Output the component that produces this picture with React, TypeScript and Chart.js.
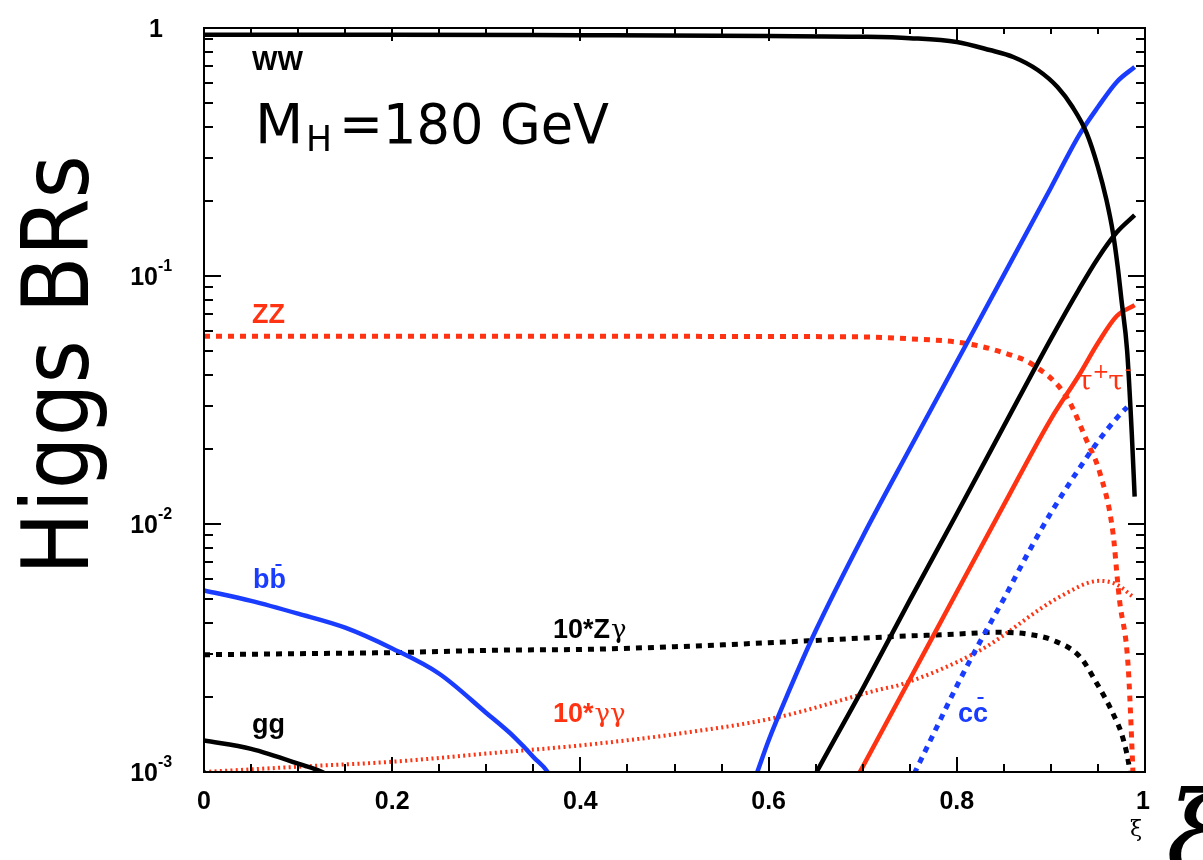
import React, { useEffect, useRef } from "react";
import { Chart, registerables } from "chart.js";

Chart.register(...registerables);

const BLACK = "#000000";
const BLUE = "#1a3cff";
const RED = "#ff3312";

// ---- data ----
const wwX = [0, 0.2, 0.4, 0.6, 0.7, 0.75, 0.8, 0.835, 0.86, 0.886, 0.907, 0.923, 0.938, 0.95, 0.959, 0.966, 0.971, 0.975, 0.981, 0.986, 0.989];
const wwY = [0.94, 0.94, 0.935, 0.928, 0.922, 0.91, 0.878, 0.815, 0.764, 0.677, 0.578, 0.48, 0.377, 0.275, 0.203, 0.149, 0.109, 0.08, 0.05, 0.023, 0.0129];

const bbX = [0, 0.05, 0.1, 0.15, 0.2, 0.25, 0.3, 0.33, 0.35, 0.37, 0.4, 0.44, 0.48, 0.52, 0.55, 0.57, 0.588, 0.6, 0.62, 0.65, 0.7, 0.75, 0.8, 0.85, 0.9, 0.93, 0.95, 0.97, 0.989];
const bbY = [0.0054, 0.0049, 0.00435, 0.00382, 0.00315, 0.00249, 0.00173, 0.00138, 0.00115, 0.00093, 0.0004, 0.0001, 0.000005, 0.00005, 0.0003, 0.00065, 0.001, 0.00134, 0.00205, 0.00371, 0.00889, 0.0201, 0.0451, 0.101, 0.227, 0.37, 0.48, 0.606, 0.696];

const ggX = [0, 0.05, 0.1, 0.13, 0.16, 0.2, 0.3, 0.4, 0.5, 0.55, 0.6, 0.62, 0.651, 0.7, 0.75, 0.8, 0.85, 0.9, 0.93, 0.95, 0.97, 0.989];
const ggY = [0.00134, 0.00124, 0.00108, 0.00098, 0.0008, 0.0006, 0.0002, 0.00001, 0.00001, 0.0001, 0.00044, 0.0006, 0.001, 0.00217, 0.00492, 0.011, 0.0248, 0.0558, 0.0886, 0.118, 0.15, 0.176];

const tautauX = [0.6, 0.65, 0.697, 0.75, 0.8, 0.85, 0.9, 0.93, 0.95, 0.97, 0.989];
const tautauY = [0.000206, 0.000468, 0.001, 0.00236, 0.00532, 0.01194, 0.0265, 0.0399, 0.0537, 0.069, 0.0763];

const ccX = [0.7, 0.73, 0.7556, 0.7747, 0.8002, 0.8247, 0.8502, 0.8757, 0.9001, 0.9299, 0.95, 0.9702, 0.981];
const ccY = [0.00036, 0.00063, 0.001, 0.00141, 0.00223, 0.00335, 0.00501, 0.00763, 0.0111, 0.0167, 0.0215, 0.0268, 0.0296];

const zzX = [0, 0.2, 0.4, 0.6, 0.7, 0.75, 0.807, 0.85, 0.881, 0.917, 0.938, 0.952, 0.966, 0.971, 0.973, 0.982, 0.987, 0.99];
const zzY = [0.0572, 0.0572, 0.0572, 0.057, 0.0568, 0.0558, 0.0537, 0.049, 0.0438, 0.0324, 0.0217, 0.0161, 0.0092, 0.0058, 0.0049, 0.0027, 0.00104, 0.0005];

const zgX = [0, 0.1, 0.2, 0.315, 0.4, 0.5, 0.6, 0.722, 0.8, 0.843, 0.875, 0.902, 0.931, 0.949, 0.966, 0.977, 0.984, 0.99];
const zgY = [0.00297, 0.003, 0.00303, 0.0031, 0.00312, 0.0032, 0.00332, 0.0035, 0.0036, 0.00366, 0.0036, 0.0034, 0.00291, 0.00227, 0.00172, 0.00135, 0.001, 0.0006];

const ggamX = [0, 0.1, 0.2, 0.315, 0.4, 0.5, 0.609, 0.718, 0.74, 0.825, 0.91, 0.952, 0.97, 0.987];
const ggamY = [0.001, 0.00105, 0.0011, 0.0012, 0.00128, 0.00142, 0.00166, 0.00215, 0.00225, 0.0031, 0.0051, 0.0059, 0.0057, 0.0051];

// ---- axis ticks ----
const xMajorTicks = [0, 0.2, 0.4, 0.6, 0.8, 1];
const xTickLabels = ["0", "0.2", "0.4", "0.6", "0.8", "1"];
const yMajorTicks = [1, 0.1, 0.01, 0.001];
const yTickBase = ["1", "10", "10", "10"];
const yTickExp = ["", "-1", "-2", "-3"];

function pts(xs: number[], ys: number[]) {
  return xs.map((x, i) => ({ x, y: ys[i] }));
}

const SANS = '"Liberation Sans", Arial, Helvetica, sans-serif';
const SERIF = '"DejaVu Serif", "Liberation Serif", serif';
const TITLE = '"DejaVu Sans", sans-serif';

function fitText(ctx: CanvasRenderingContext2D, text: string, x: number, y: number, maxW: number) {
  const w = ctx.measureText(text).width;
  const s = w > maxW ? maxW / w : 1;
  ctx.save();
  ctx.translate(x, y);
  ctx.scale(s, 1);
  ctx.fillText(text, 0, 0);
  ctx.restore();
  return w * s;
}

const overlay = {
  id: "overlay",
  afterDatasetsDraw(chart: any) {
    const { ctx, chartArea: a, scales } = chart;
    const xs = scales.x;
    const ys = scales.y;
    ctx.save();
    ctx.strokeStyle = BLACK;
    ctx.fillStyle = BLACK;
    ctx.lineWidth = 2;
    ctx.lineCap = "butt";
    ctx.strokeRect(a.left, a.top, a.right - a.left, a.bottom - a.top);

    // x ticks (inward, bottom and top)
    ctx.beginPath();
    for (let i = 0; i <= 20; i++) {
      const v = i * 0.05;
      const px = Math.round(xs.getPixelForValue(v));
      const major = i % 4 === 0;
      const lb = major ? 15 : 8;
      const lt = major ? 13 : 6;
      ctx.moveTo(px, a.bottom);
      ctx.lineTo(px, a.bottom - lb);
      ctx.moveTo(px, a.top);
      ctx.lineTo(px, a.top + lt);
    }
    // y ticks (inward, left and right)
    for (let e = -3; e <= 0; e++) {
      for (let m = 1; m <= 9; m++) {
        const v = m * Math.pow(10, e);
        if (v > 1.0001) continue;
        const py = Math.round(ys.getPixelForValue(v));
        const major = m === 1;
        const l = major ? 17 : 9;
        ctx.moveTo(a.left, py);
        ctx.lineTo(a.left + l, py);
        ctx.moveTo(a.right, py);
        ctx.lineTo(a.right - l, py);
      }
    }
    ctx.stroke();

    // x tick labels
    ctx.font = `bold 25px ${SANS}`;
    ctx.textAlign = "center";
    ctx.textBaseline = "middle";
    xMajorTicks.forEach((v, i) => {
      let px = xs.getPixelForValue(v);
      if (i === xMajorTicks.length - 1) px -= 2;
      ctx.fillText(xTickLabels[i], px, 802);
    });

    // y tick labels
    yMajorTicks.forEach((v, i) => {
      const py = ys.getPixelForValue(v);
      ctx.textBaseline = "middle";
      if (!yTickExp[i]) {
        ctx.font = `bold 25px ${SANS}`;
        ctx.textAlign = "right";
        ctx.fillText(yTickBase[i], 163, py + 2);
      } else {
        ctx.font = `bold 25px ${SANS}`;
        ctx.textAlign = "right";
        ctx.fillText(yTickBase[i], 158, py + 2);
        ctx.font = `bold 16px ${SANS}`;
        ctx.textAlign = "left";
        ctx.fillText(yTickExp[i], 158, py - 9);
      }
    });

    // Axis title (rotated)
    ctx.save();
    ctx.translate(88, 365);
    ctx.rotate(-Math.PI / 2);
    ctx.font = `92px ${TITLE}`;
    ctx.textAlign = "left";
    ctx.textBaseline = "alphabetic";
    const tw = ctx.measureText("Higgs BRs").width;
    const s = 420 / tw;
    ctx.scale(s, 1);
    ctx.fillText("Higgs BRs", -tw / 2, 0);
    ctx.restore();

    // xi labels
    ctx.textAlign = "center";
    ctx.textBaseline = "alphabetic";
    ctx.font = `22px ${SERIF}`;
    ctx.fillText("ξ", 1136, 836);
    ctx.textAlign = "left";
    ctx.font = `italic 112px ${SERIF}`;
    ctx.fillText("ξ", 1166, 872);

    // M_H = 180 GeV
    ctx.textAlign = "left";
    ctx.textBaseline = "alphabetic";
    ctx.font = `56px ${TITLE}`;
    fitText(ctx, "M", 255, 143, 49);
    ctx.font = `36px ${TITLE}`;
    fitText(ctx, "H", 306, 151, 26);
    ctx.font = `56px ${TITLE}`;
    fitText(ctx, "=180 GeV", 339, 143, 270);

    // curve labels
    const lab = `bold 27px ${SANS}`;
    ctx.font = lab;
    ctx.fillStyle = BLACK;
    ctx.fillText("WW", 252, 70);
    ctx.fillText("gg", 252, 733);
    ctx.fillStyle = RED;
    ctx.fillText("ZZ", 252, 323);

    // b b-bar
    ctx.fillStyle = BLUE;
    ctx.strokeStyle = BLUE;
    ctx.fillText("bb", 253, 588);
    {
      const w1 = ctx.measureText("b").width;
      ctx.lineWidth = 2;
      ctx.beginPath();
      ctx.moveTo(253 + w1 + 6, 565);
      ctx.lineTo(253 + w1 + 12, 565);
      ctx.stroke();
    }
    // c c-bar
    ctx.fillText("cc", 958, 722);
    {
      const w1 = ctx.measureText("c").width;
      const w2 = ctx.measureText("c").width;
      ctx.beginPath();
      ctx.moveTo(958 + w1 + w2 / 2 - 3, 698);
      ctx.lineTo(958 + w1 + w2 / 2 + 3, 698);
      ctx.stroke();
    }

    // 10*Zγ
    ctx.fillStyle = BLACK;
    ctx.font = lab;
    ctx.fillText("10*Z", 553, 638);
    let w = ctx.measureText("10*Z").width;
    ctx.font = `26px ${SERIF}`;
    ctx.fillText("γ", 553 + w + 1, 638);

    // 10*γγ
    ctx.fillStyle = RED;
    ctx.font = lab;
    ctx.fillText("10*", 553, 722);
    w = ctx.measureText("10*").width;
    ctx.font = `26px ${SERIF}`;
    ctx.fillText("γγ", 553 + w + 1, 722);

    // τ+τ-
    ctx.font = `28px ${SERIF}`;
    let x = 1077;
    ctx.fillText("τ", x, 390);
    x += ctx.measureText("τ").width;
    ctx.font = `20px ${SERIF}`;
    ctx.fillText("+", x, 378);
    x += ctx.measureText("+").width - 1;
    ctx.font = `28px ${SERIF}`;
    ctx.fillText("τ", x, 390);
    x += ctx.measureText("τ").width;
    ctx.font = `20px ${SERIF}`;
    ctx.fillText("-", x + 1, 376);

    ctx.restore();
  },
};

export default function App() {
  const ref = useRef<HTMLCanvasElement>(null);

  useEffect(() => {
    const canvas = ref.current;
    if (!canvas) return;
    const solid = (color: string) => ({
      borderColor: color,
      backgroundColor: color,
      borderWidth: 4.5,
      pointRadius: 0,
      fill: false,
      cubicInterpolationMode: "monotone" as const,
      clip: 0,
    });
    const dotted = (color: string) => ({
      ...solid(color),
      borderWidth: 5,
      borderDash: [6, 6],
    });
    const chart = new Chart(canvas, {
      type: "line",
      data: {
        datasets: [
          { label: "WW", data: pts(wwX, wwY), ...solid(BLACK) },
          { label: "bb", data: pts(bbX, bbY), ...solid(BLUE) },
          { label: "gg", data: pts(ggX, ggY), ...solid(BLACK) },
          { label: "tautau", data: pts(tautauX, tautauY), ...solid(RED) },
          { label: "cc", data: pts(ccX, ccY), ...dotted(BLUE) },
          { label: "ZZ", data: pts(zzX, zzY), ...dotted(RED) },
          { label: "10*Zgamma", data: pts(zgX, zgY), ...dotted(BLACK) },
          { label: "10*gammagamma", data: pts(ggamX, ggamY), ...solid(RED), borderWidth: 4, borderDash: [2, 3.3] },
        ] as any,
      },
      options: {
        responsive: false,
        maintainAspectRatio: false,
        devicePixelRatio: 1,
        animation: false,
        layout: { padding: { left: 0, right: 58, top: 28, bottom: 0 } },
        plugins: {
          legend: { display: false },
          tooltip: { enabled: false },
        },
        scales: {
          x: {
            type: "linear",
            min: 0,
            max: 1,
            grid: { display: false },
            border: { display: false },
            ticks: { display: false },
            afterFit: (s: any) => {
              s.height = 88;
            },
          },
          y: {
            type: "logarithmic",
            min: 0.001,
            max: 1,
            grid: { display: false },
            border: { display: false },
            ticks: { display: false },
            afterFit: (s: any) => {
              s.width = 204;
            },
          },
        },
      } as any,
      plugins: [overlay],
    });
    return () => chart.destroy();
  }, []);

  return (
    <div style={{ position: "fixed", left: 0, top: 0, width: 1203, height: 860, background: "#fff", overflow: "hidden" }}>
      <canvas ref={ref} width={1203} height={860} style={{ width: 1203, height: 860, display: "block" }} />
    </div>
  );
}
